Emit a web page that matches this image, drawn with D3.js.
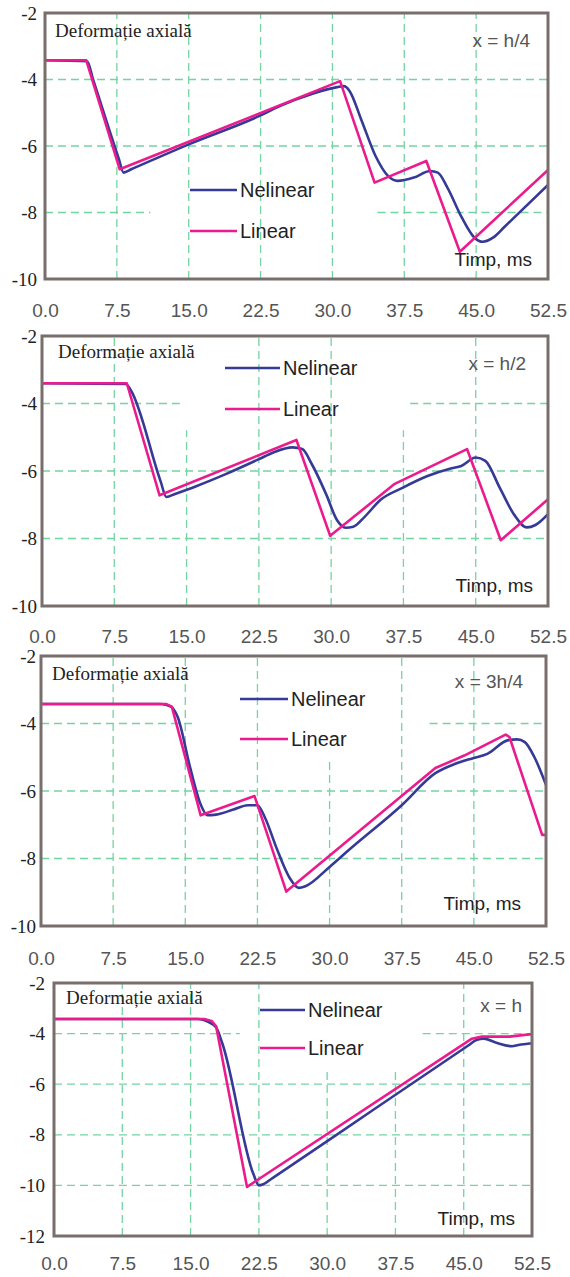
<!DOCTYPE html>
<html><head><meta charset="utf-8">
<script src="https://cdn.jsdelivr.net/npm/d3@7"></script>
<style>body{margin:0;background:#fff}svg{display:block}</style>
</head><body><svg id="c" width="570" height="1277"></svg>
<script>
// ---------- data ----------
const xTicks = [0, 7.5, 15, 22.5, 30, 37.5, 45, 52.5];
const yTicks10 = [-2, -4, -6, -8, -10];
const yTicks12 = [-2, -4, -6, -8, -10, -12];
const seriesNames = ["Nelinear", "Linear"];
const panelLabels = ["x = h/4", "x = h/2", "x = 3h/4", "x = h"];
const titleText = "Deformație axială";
const xAxisLabel = "Timp, ms";

// x = h/4
const nel_h4 = [[0,-3.42],[4.4,-3.45],[5.0,-3.98],[7.7,-6.38],[8.2,-6.8],[9,-6.7],[15,-5.95],[22.5,-5.08],[24.5,-4.8],[28,-4.42],[30.5,-4.23],[31.2,-4.2],[31.8,-4.35],[33,-5.2],[34.5,-6.3],[35.8,-6.9],[36.8,-7.05],[38.5,-6.95],[40.2,-6.75],[41,-6.8],[42,-7.25],[43.5,-8.15],[44.8,-8.75],[45.7,-8.88],[46.8,-8.75],[48,-8.42],[52.5,-7.17]];
const lin_h4 = [[0,-3.42],[4.3,-3.42],[7.8,-6.7],[30.8,-4.05],[34.4,-7.1],[39.8,-6.45],[43.3,-9.18],[52.5,-6.72]];
// x = h/2
const nel_h2 = [[0,-3.4],[8.7,-3.42],[9.2,-3.6],[12.3,-6.3],[12.9,-6.77],[13.8,-6.68],[16,-6.45],[19,-6.1],[22.5,-5.65],[24,-5.45],[26,-5.3],[27,-5.35],[28,-5.8],[29.5,-6.7],[30.6,-7.45],[31.5,-7.68],[32.3,-7.65],[33.5,-7.35],[35.1,-6.86],[37.4,-6.5],[40,-6.15],[42.5,-5.92],[43.5,-5.85],[45,-5.6],[46,-5.7],[47.5,-6.5],[49,-7.3],[50.3,-7.67],[51.2,-7.6],[52.5,-7.28]];
const lin_h2 = [[0,-3.4],[8.8,-3.4],[12.2,-6.72],[26.4,-5.08],[29.9,-7.92],[36.6,-6.38],[44.1,-5.35],[47.6,-8.05],[52.5,-6.84]];
// x = 3h/4
const nel_h34 = [[0,-3.42],[12.5,-3.42],[13.5,-3.5],[14.2,-3.8],[15.5,-5.3],[16.6,-6.4],[17.3,-6.72],[18.2,-6.7],[20,-6.55],[21.5,-6.42],[22.5,-6.42],[23.3,-6.8],[24.5,-7.7],[25.8,-8.55],[26.8,-8.87],[27.5,-8.82],[30,-8.25],[32,-7.75],[37.5,-6.42],[41,-5.47],[43,-5.2],[45,-5.02],[46.4,-4.9],[48.5,-4.5],[49.5,-4.47],[50.3,-4.55],[51.3,-5.0],[52.5,-5.82]];
const lin_h34 = [[0,-3.42],[13.0,-3.42],[13.6,-3.5],[16.6,-6.72],[22.2,-6.15],[25.5,-8.98],[41,-5.32],[44,-4.95],[48.3,-4.33],[48.7,-4.4],[52.1,-7.3],[52.5,-7.3]];
// x = h
const nel_h = [[0,-3.42],[15.8,-3.42],[17,-3.55],[17.8,-3.75],[18.5,-4.4],[21.9,-9.55],[22.5,-10.0],[23,-9.95],[24,-9.71],[35,-7.03],[45.5,-4.47],[46.4,-4.25],[47.2,-4.2],[48.5,-4.35],[50.3,-4.5],[51,-4.45],[52.5,-4.38]];
const lin_h = [[0,-3.42],[16.5,-3.42],[17.3,-3.5],[17.8,-3.7],[21.2,-10.06],[45.9,-4.2],[47,-4.12],[50,-4.12],[52.5,-4.02]];

// ---------- layout ----------
const C_NEL = "#363a97", C_LIN = "#ec1b8d", C_GRID = "#74d4a2", C_FRAME = "#786f6c";
const panels = [
  {nel: nel_h4, lin: lin_h4, yTicks: yTicks10, L:45, R:548, T:13, B:279, yLabX:37, xLabDy:38,
   title:[55,37], legX:[190,237], legY:[190,231], tag:[530,47], timp:[532,266],
   hGaps:[{v:-8, t0:11.0, t1:34.7}], vPart:[]},
  {nel: nel_h2, lin: lin_h2, yTicks: yTicks10, L:42, R:548, T:336, B:606, yLabX:37, xLabDy:37,
   title:[58,358], legX:[225,280], legY:[368,409], tag:[526,370], timp:[533,592],
   hGaps:[{v:-4, t0:14.3, t1:38.2}], vPart:[{t:15, top:-4.79},{t:37.5, top:-4.79}]},
  {nel: nel_h34, lin: lin_h34, yTicks: yTicks10, L:41, R:546, T:656, B:926, yLabX:36, xLabDy:39,
   title:[52,680], legX:[240,288], legY:[699,739], tag:[523,688], timp:[521,910],
   hGaps:[{v:-4, t0:15.8, t1:40.4}], vPart:[{t:30, top:-5.14}]},
  {nel: nel_h, lin: lin_h, yTicks: yTicks12, L:54, R:532, T:983, B:1236, yLabX:45, xLabDy:34,
   title:[66,1004], legX:[260,305], legY:[1010,1048], tag:[522,1012], timp:[515,1225],
   hGaps:[{v:-4, t0:20.4, t1:40.5}], vPart:[{t:30, top:-5.36},{t:37.5, top:-5.36}]}
];

const svg = d3.select("#c");
const SANS = "Liberation Sans, Arial, sans-serif";
const SERIF = "Liberation Serif, Times New Roman, serif";

panels.forEach((p, i) => {
  const yMin = d3.min(p.yTicks), yMax = d3.max(p.yTicks);
  const x = d3.scaleLinear().domain([0, 52.5]).range([p.L, p.R]);
  const y = d3.scaleLinear().domain([yMin, yMax]).range([p.B, p.T]);
  const g = svg.append("g");

  const cid = "clip" + i;
  svg.append("defs").append("clipPath").attr("id", cid)
    .append("rect").attr("x", p.L).attr("y", p.T).attr("width", p.R - p.L).attr("height", p.B - p.T);

  // grid
  const grid = g.append("g").attr("stroke", C_GRID).attr("stroke-width", 1.3)
    .attr("stroke-dasharray", "8,5").attr("fill", "none");
  p.yTicks.filter(v => v !== yMin && v !== yMax).forEach(v => {
    const gap = p.hGaps.find(h => h.v === v);
    const segs = gap ? [[0, gap.t0], [gap.t1, 52.5]] : [[0, 52.5]];
    segs.forEach(s => grid.append("line").attr("x1", x(s[0])).attr("x2", x(s[1]))
      .attr("y1", y(v)).attr("y2", y(v)));
  });
  xTicks.filter(t => t !== 0 && t !== 52.5).forEach(t => {
    const part = p.vPart.find(q => q.t === t);
    const top = part ? part.top : yMax;
    grid.append("line").attr("x1", x(t)).attr("x2", x(t)).attr("y1", y(yMin)).attr("y2", y(top));
  });

  // series
  const lineNel = d3.line().x(d => x(d[0])).y(d => y(d[1])).curve(d3.curveMonotoneX);
  const lineLin = d3.line().x(d => x(d[0])).y(d => y(d[1]));
  const lg = g.append("g").attr("clip-path", `url(#${cid})`).attr("fill", "none")
    .attr("stroke-width", 2.6).attr("stroke-linejoin", "round");
  lg.append("path").datum(p.nel).attr("d", lineNel).attr("stroke", C_NEL);
  lg.append("path").datum(p.lin).attr("d", lineLin).attr("stroke", C_LIN);

  // frame
  g.append("rect").attr("x", p.L).attr("y", p.T).attr("width", p.R - p.L).attr("height", p.B - p.T)
    .attr("fill", "none").attr("stroke", C_FRAME).attr("stroke-width", 3);

  // axes labels
  const xAxis = d3.axisBottom(x).tickValues(xTicks).tickSize(0).tickFormat(d3.format(".1f"));
  const xa = g.append("g").attr("transform", `translate(0,${p.B + p.xLabDy - 14})`).call(xAxis);
  xa.select(".domain").remove();
  xa.selectAll("text").attr("font-family", SANS).attr("font-size", 19).attr("fill", "#555")
    .attr("dy", 0).attr("y", 14);

  const yAxis = d3.axisLeft(y).tickValues(p.yTicks).tickSize(0).tickFormat(d => d3.format("d")(d).replace("−", "-"));
  const ya = g.append("g").attr("transform", `translate(${p.yLabX},0)`).call(yAxis);
  ya.select(".domain").remove();
  ya.selectAll("text").attr("font-family", SERIF).attr("font-size", 19).attr("fill", "#222")
    .attr("x", 0).attr("dy", "0.32em");

  g.append("text").attr("x", p.title[0]).attr("y", p.title[1]).text(titleText)
    .attr("font-family", SERIF).attr("font-size", 19).attr("fill", "#222");
  g.append("text").attr("x", p.tag[0]).attr("y", p.tag[1]).text(panelLabels[i])
    .attr("text-anchor", "end").attr("font-family", SANS).attr("font-size", 19).attr("fill", "#555");
  g.append("text").attr("x", p.timp[0]).attr("y", p.timp[1]).text(xAxisLabel)
    .attr("text-anchor", "end").attr("font-family", SANS).attr("font-size", 19).attr("fill", "#222");

  // legend
  [C_NEL, C_LIN].forEach((c, k) => {
    g.append("line").attr("x1", p.legX[0]).attr("x2", p.legX[1]).attr("y1", p.legY[k]).attr("y2", p.legY[k])
      .attr("stroke", c).attr("stroke-width", 2.6);
    g.append("text").attr("x", p.legX[1] + 3).attr("y", p.legY[k] + 7).text(seriesNames[k])
      .attr("font-family", SANS).attr("font-size", 20).attr("fill", "#222");
  });
});
</script></body></html>
